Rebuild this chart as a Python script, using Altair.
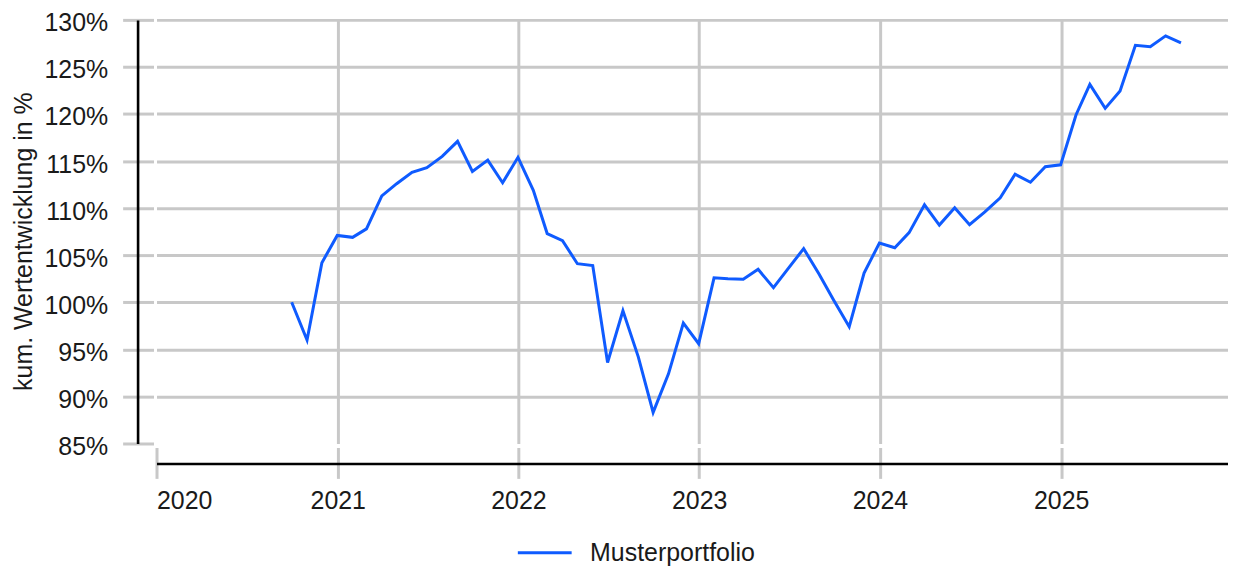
import altair as alt
import pandas as pd

# Month-end observation dates (Sep 2020 .. Aug 2025)
dates = pd.date_range("2020-09-30", periods=60, freq=pd.offsets.MonthEnd()).strftime("%Y-%m-%d").tolist()

values = [
    100.0, 96.0, 104.2, 107.1,
    106.9, 107.8, 111.3, 112.6, 113.8, 114.3, 115.5, 117.1, 113.9, 115.1, 112.7, 115.4,
    111.9, 107.3, 106.55, 104.1, 103.9, 93.6, 99.1, 94.2, 88.3, 92.4, 97.8, 95.6,
    102.6, 102.5, 102.45, 103.5, 101.55, 103.6, 105.7, 103.0, 100.2, 97.4, 103.1, 106.3,
    105.8, 107.4, 110.35, 108.2, 110.05, 108.25, 109.6, 111.1, 113.6, 112.75, 114.4, 114.6,
    119.9, 123.15, 120.6, 122.45, 127.3, 127.15, 128.3, 127.55,
]
series_name = "Musterportfolio"
y_ticks = [85, 90, 95, 100, 105, 110, 115, 120, 125, 130]

df = pd.DataFrame({"date": dates, "value": values, "series": series_name})

GRID = "#c8c8c8"
TXT = "#1a1a1a"
FONT = 25

x_scale = alt.Scale(
    domain=[alt.DateTime(year=2020, month=1, date=1), alt.DateTime(year=2025, month=12, date=4)],
    nice=False,
)
y_scale = alt.Scale(domain=[85, 130], nice=False, zero=False)

layer_a = alt.Chart(df).mark_line(strokeWidth=3).encode(
    x=alt.X(
        "date:T",
        scale=x_scale,
        axis=alt.Axis(
            orient="bottom", offset=4, domain=False,
            tickSize=31, tickWidth=3, tickColor=GRID,
            grid=True, gridColor=GRID, gridWidth=3,
            gridOpacity={"expr": "year(datum.value) == 2020 ? 0 : 1"},
            format="%Y", tickCount={"interval": "year", "step": 1},
            labelFontSize=FONT, labelColor=TXT, labelPadding=10,
            title=None,
        ),
    ),
    y=alt.Y(
        "value:Q",
        scale=y_scale,
        axis=alt.Axis(
            orient="left", offset=3, domain=False, values=y_ticks,
            tickSize=31, tickWidth=3, tickColor=GRID,
            grid=True, gridColor=GRID, gridWidth=3,
            gridOpacity={"expr": "datum.value == 85 ? 0 : 1"},
            labelExpr="datum.value + '%'", labelOffset=3,
            labelFontSize=FONT, labelColor=TXT, labelPadding=15,
            title="kum. Wertentwicklung in %", titleFontSize=FONT,
            titleFontWeight="normal", titleColor=TXT, titlePadding=7,
            titleY=222,
        ),
    ),
    color=alt.Color(
        "series:N",
        scale=alt.Scale(range=["#0f5bff"]),
        legend=alt.Legend(
            orient="none", legendX=361, legendY=506, title=None,
            symbolType="stroke", symbolSize=2916, symbolStrokeWidth=3,
            labelFontSize=FONT, labelColor=TXT, labelOffset=17, labelLimit=0,
        ),
    ),
)

layer_b = alt.Chart(df).mark_line(strokeOpacity=0).encode(
    x=alt.X(
        "date:T", scale=x_scale,
        axis=alt.Axis(orient="bottom", offset=20, domain=True, domainColor="black",
                      domainWidth=2.6, ticks=False, labels=False, grid=False, title=None),
    ),
    y=alt.Y(
        "value:Q", scale=y_scale,
        axis=alt.Axis(orient="left", offset=19, domain=True, domainColor="black",
                      domainWidth=2.6, ticks=False, labels=False, grid=False, title=None),
    ),
)

chart = (
    alt.layer(layer_a, layer_b)
    .resolve_axis(x="independent", y="independent")
    .properties(
        width=1075, height=425,
        autosize=alt.AutoSizeParams(type="none"),
        padding={"left": 149, "top": 11, "right": 0, "bottom": 125},
    )
    .configure(font="Liberation Sans")
    .configure_view(stroke=None)
)

chart.save("out.html", embed_options={"renderer": "svg", "actions": False})
